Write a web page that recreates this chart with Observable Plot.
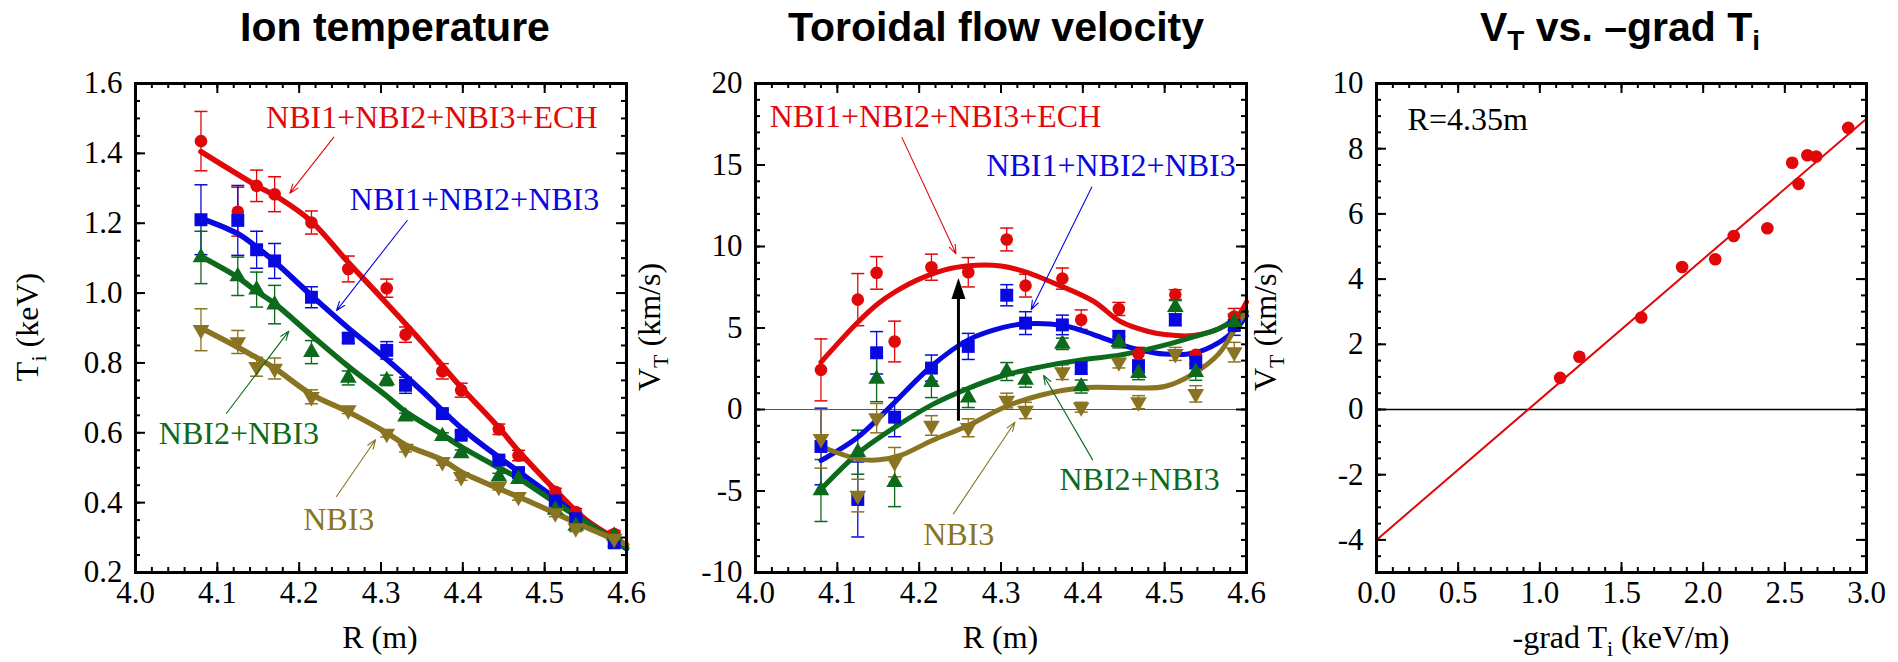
<!DOCTYPE html>
<html><head><meta charset="utf-8">
<script src="https://cdn.jsdelivr.net/npm/d3@7"></script>
<script src="https://cdn.jsdelivr.net/npm/@observablehq/plot@0.6"></script>
<style>
body{margin:0;background:#fff;}
#wrap{position:relative;width:1898px;height:662px;overflow:hidden;background:#fff;}
#wrap g[aria-label$="tick label"]{font-family:'Liberation Serif','Times New Roman',serif;font-variant:normal;}
</style></head><body><div id="wrap"></div>
<script>
// ---------- data ----------
const R = [4.08, 4.125, 4.148, 4.17, 4.215, 4.26, 4.307, 4.33, 4.375, 4.398, 4.444, 4.468, 4.513, 4.538, 4.585];

// Ion temperature (keV)
const tiRed = [1.435, 1.233, 1.307, 1.283, 1.202, 1.069, 1.014, 0.881, 0.776, 0.722, 0.610, 0.535, 0.431, 0.373, 0.310];
const tiRedErr = [0.085, 0.07, 0.045, 0.05, 0.033, 0.037, 0.026, 0.022, 0.022, 0.02, 0.015, 0.015, 0.01, 0.01, 0.01];
const tiBlue = [1.210, 1.208, 1.124, 1.092, 0.988, 0.871, 0.836, 0.736, 0.655, 0.593, 0.522, 0.486, 0.405, 0.354, 0.285];
const tiBlueErr = [0.1, 0.1, 0.053, 0.05, 0.03, 0.015, 0.025, 0.023, 0.01, 0.01, 0.01, 0.01, 0.01, 0.01, 0.01];
const tiGreen = [1.102, 1.048, 1.010, 0.967, 0.831, 0.757, 0.750, 0.646, 0.590, 0.541, 0.474, 0.467, 0.379, 0.333, 0.305];
const tiGreenErr = [0.075, 0.055, 0.05, 0.055, 0.033, 0.02, 0.015, 0.01, 0.01, 0.01, 0.01, 0.01, 0.01, 0.01, 0.01];
const tiOlive = [0.895, 0.860, 0.789, 0.784, 0.703, 0.665, 0.598, 0.555, 0.517, 0.474, 0.446, 0.417, 0.370, 0.327, 0.297];
const tiOliveErr = [0.06, 0.033, 0.027, 0.03, 0.02, 0.01, 0.01, 0.01, 0.01, 0.01, 0.01, 0.01, 0.01, 0.01, 0.01];

// Ti fit curves
const fitTiRedR = [4.08, 4.125, 4.15, 4.177, 4.215, 4.26, 4.30, 4.35, 4.398, 4.444, 4.468, 4.513, 4.55, 4.6];
const fitTiRed = [1.405, 1.34, 1.305, 1.27, 1.205, 1.088, 0.988, 0.86, 0.73, 0.615, 0.548, 0.436, 0.352, 0.279];
const fitTiBlueR = [4.08, 4.125, 4.15, 4.17, 4.215, 4.26, 4.307, 4.35, 4.4, 4.444, 4.468, 4.513, 4.55, 4.6];
const fitTiBlue = [1.214, 1.17, 1.128, 1.09, 0.993, 0.9, 0.81, 0.72, 0.61, 0.53, 0.489, 0.412, 0.345, 0.268];
const fitTiGOR = [4.08, 4.125, 4.148, 4.17, 4.215, 4.26, 4.307, 4.33, 4.375, 4.398, 4.444, 4.468, 4.513, 4.55, 4.6];
const fitTiGreen = [1.105, 1.045, 1.005, 0.97, 0.879, 0.79, 0.705, 0.66, 0.595, 0.56, 0.5, 0.47, 0.4, 0.345, 0.27];
const fitTiOlive = [0.9, 0.845, 0.815, 0.785, 0.71, 0.66, 0.6, 0.565, 0.522, 0.488, 0.44, 0.417, 0.37, 0.33, 0.28];

// Toroidal flow velocity (km/s)
const vtRed = [2.43, 6.74, 8.38, 4.17, 8.73, 8.42, 10.43, 7.6, 8.03, 5.51, 6.17, 3.41, 7.05, 3.35, 5.7];
const vtRedErr = [1.9, 1.6, 1.0, 1.25, 0.8, 0.9, 0.7, 0.7, 0.65, 0.6, 0.4, 0.4, 0.3, 0.2, 0.5];
const vtBlue = [-2.27, -5.52, 3.48, -0.47, 2.54, 3.87, 7.01, 5.3, 5.19, 2.56, 4.44, 2.64, 5.5, 2.9, 5.15];
const vtBlueErr = [2.35, 2.3, 1.3, 1.2, 0.8, 0.8, 0.65, 0.7, 0.6, 0.4, 0.4, 0.4, 0.35, 0.4, 0.6];
const vtGreen = [-4.97, -2.62, 1.88, -4.46, 1.68, 0.72, 2.33, 1.82, 4.03, 1.41, 4.13, 2.23, 6.28, 2.29, 5.36];
const vtGreenErr = [1.9, 1.35, 1.4, 1.5, 0.95, 0.6, 0.55, 0.45, 0.35, 0.4, 0.35, 0.4, 0.4, 0.5, 0.5];
const vtOlive = [-1.8, -5.28, -0.53, -3.23, -0.98, -1.12, 0.55, -0.06, 2.29, 0.14, 2.9, 0.45, 3.41, 0.96, 3.52];
const vtOliveErr = [1.8, 1.0, 0.9, 0.9, 0.6, 0.55, 0.45, 0.5, 0.45, 0.3, 0.35, 0.4, 0.4, 0.5, 0.6];

// VT fit curves
const fitVtRedR = [4.08, 4.125, 4.15, 4.17, 4.2, 4.238, 4.27, 4.3, 4.326, 4.369, 4.413, 4.446, 4.479, 4.5, 4.535, 4.566, 4.588, 4.6];
const fitVtRed = [2.9, 5.35, 6.5, 7.2, 8.0, 8.65, 8.85, 8.8, 8.5, 7.66, 6.64, 5.4, 4.8, 4.6, 4.54, 4.95, 5.66, 6.6];
const fitVtBlueR = [4.08, 4.125, 4.162, 4.216, 4.26, 4.304, 4.33, 4.376, 4.413, 4.446, 4.47, 4.5, 4.535, 4.566, 4.588, 4.6];
const fitVtBlue = [-3.13, -1.7, 0.04, 2.7, 4.27, 5.05, 5.26, 5.15, 4.6, 4.0, 3.65, 3.4, 3.45, 4.1, 5.0, 5.75];
const fitVtGreenR = [4.08, 4.125, 4.17, 4.216, 4.26, 4.304, 4.347, 4.4, 4.446, 4.5, 4.535, 4.566, 4.592, 4.6];
const fitVtGreen = [-4.9, -2.7, -1.1, 0.3, 1.3, 2.1, 2.6, 3.05, 3.35, 3.95, 4.45, 4.95, 5.75, 6.0];
const fitVtOliveR = [4.087, 4.125, 4.151, 4.177, 4.216, 4.26, 4.304, 4.347, 4.4, 4.457, 4.5, 4.535, 4.566, 4.592, 4.6];
const fitVtOlive = [-2.41, -3.03, -3.09, -2.82, -1.9, -0.98, 0.14, 0.86, 1.33, 1.33, 1.41, 2.19, 3.41, 5.46, 6.0];

// black arrow in velocity panel (R, from, to)
const bigArrow = {R: 4.248, from: -0.72, to: 8.07};

// VT vs -grad Ti at R = 4.35 m
const gradTi = [1.124, 1.242, 1.621, 1.871, 2.074, 2.187, 2.393, 2.545, 2.584, 2.638, 2.692, 2.888];
const vt435 = [0.97, 1.62, 2.82, 4.37, 4.61, 5.32, 5.56, 7.57, 6.92, 7.8, 7.76, 8.64];
const fitLineX = [0, 3];
const fitLineY = [-4.0, 8.92];

// tick labels
const rTicks = [4.0, 4.1, 4.2, 4.3, 4.4, 4.5, 4.6];
const tiTicks = [0.2, 0.4, 0.6, 0.8, 1.0, 1.2, 1.4, 1.6];
const vtTicks = [-10, -5, 0, 5, 10, 15, 20];
const gTicks = [0.0, 0.5, 1.0, 1.5, 2.0, 2.5, 3.0];
const v3Ticks = [-4, -2, 0, 2, 4, 6, 8, 10];

// annotations
const labels = ["NBI1+NBI2+NBI3+ECH", "NBI1+NBI2+NBI3", "NBI2+NBI3", "NBI3"];
const annTi = [
  {x: 4.1596, y: 1.473, ax1: 4.2424, ay1: 1.4463, ax2: 4.1886, ay2: 1.286},
  {x: 4.2619, y: 1.2384, ax1: 4.332, ay1: 1.2078, ax2: 4.2456, ay2: 0.95},
  {x: 4.0285, y: 0.5665, ax1: 4.1112, ay1: 0.656, ax2: 4.1874, ay2: 0.891},
  {x: 4.2049, y: 0.3223, ax1: 4.2456, ay1: 0.4176, ax2: 4.2933, ay2: 0.58}
];
const annVt = [
  {x: 4.0175, y: 17.34, ax1: 4.179, ay1: 16.68, ax2: 4.245, ay2: 9.55},
  {x: 4.282, y: 14.32, ax1: 4.411, ay1: 13.65, ax2: 4.337, ay2: 6.13},
  {x: 4.3715, y: -4.93, ax1: 4.412, ay1: -3.09, ax2: 4.352, ay2: 2.09},
  {x: 4.205, y: -8.34, ax1: 4.242, ay1: -6.4, ax2: 4.317, ay2: -0.78}
];
const noteR = {x: 0.19, y: 8.58, text: "R=4.35m"};

// ---------- styles ----------
const colors = ["#e00808", "#0808e0", "#0b6a1c", "#8a7421"];
const SERIF = "'Liberation Serif', 'Times New Roman', serif";
const SANS = "'Liberation Sans', Arial, sans-serif";

const capSym = {draw(ctx) { ctx.moveTo(-6.5, 0); ctx.lineTo(6.5, 0); }};
const headSym = {draw(ctx) { ctx.moveTo(0, 0); ctx.lineTo(-7, 21); ctx.lineTo(7, 21); ctx.closePath(); }};

const W = 640, H = 662, MT = 83, MB = 90, MR = 14;
const wrap = document.getElementById("wrap");

function rows(xs, vs, es) { return xs.map((x, i) => ({x, v: vs[i], e: es ? es[i] : 0})); }

function seriesErr(data, color) {
  return [
    Plot.ruleX(data, {x: "x", y1: d => d.v - d.e, y2: d => d.v + d.e, stroke: color, strokeWidth: 1.3}),
    Plot.dot(data, {x: "x", y: d => d.v + d.e, symbol: capSym, fill: "none", stroke: color, strokeWidth: 1.5}),
    Plot.dot(data, {x: "x", y: d => d.v - d.e, symbol: capSym, fill: "none", stroke: color, strokeWidth: 1.5})
  ];
}
const symbols = [
  {symbol: "circle", r: 6.3, rotate: 0},
  {symbol: "square", r: 7.3, rotate: 0},
  {symbol: "triangle", r: 6.2, rotate: 0},
  {symbol: "triangle", r: 6.2, rotate: 180}
];
function seriesDots(data, i) {
  return Plot.dot(data, {x: "x", y: "v", symbol: symbols[i].symbol, r: symbols[i].r, rotate: symbols[i].rotate, fill: colors[i], stroke: "none"});
}

function frameTicks(fw, fh, xMinor, xMajor, yMinor, yMajor) {
  const s = {stroke: "black", strokeWidth: 2};
  return [
    Plot.ruleX(xMinor, {x: d => d, insetTop: fh - 5, ...s}),
    Plot.ruleX(xMinor, {x: d => d, insetBottom: fh - 5, ...s}),
    Plot.ruleX(xMajor, {x: d => d, insetTop: fh - 10, ...s}),
    Plot.ruleX(xMajor, {x: d => d, insetBottom: fh - 10, ...s}),
    Plot.ruleY(yMinor, {y: d => d, insetRight: fw - 5, ...s}),
    Plot.ruleY(yMinor, {y: d => d, insetLeft: fw - 5, ...s}),
    Plot.ruleY(yMajor, {y: d => d, insetRight: fw - 10, ...s}),
    Plot.ruleY(yMajor, {y: d => d, insetLeft: fw - 10, ...s})
  ];
}

function makePanel(o) {
  const fw = W - o.marginLeft - MR, fh = H - MT - MB;
  const svg = Plot.plot({
    width: W, height: H, marginLeft: o.marginLeft, marginRight: MR, marginTop: MT, marginBottom: MB,
    x: {domain: o.xDomain}, y: {domain: o.yDomain},
    style: {fontFamily: SERIF, fontSize: "31px", background: "transparent", overflow: "visible", color: "black"},
    marks: [
      ...o.marks,
      ...frameTicks(fw, fh, o.xMinor, o.xMajor, o.yMinor, o.yMajor),
      Plot.axisX({ticks: o.xTicks, tickFormat: o.xFmt, tickSize: 0, tickPadding: 8, label: null, fontSize: 31, fontFamily: SERIF}),
      Plot.axisY({ticks: o.yTicks, tickFormat: o.yFmt, tickSize: 0, tickPadding: 13, label: null, fontSize: 31, fontFamily: SERIF}),
      Plot.frame({stroke: "black", strokeWidth: 3})
    ]
  });
  svg.style.position = "absolute";
  svg.style.left = o.left + "px";
  svg.style.top = "0px";
  svg.style.maxWidth = "none";
  wrap.appendChild(svg);
  return d3.select(svg);
}

// rich text helper: parts = [[text, isSub], ...]
function richText(sel, parts, size, subSize, shift) {
  parts.forEach(([t, sub], i) => {
    const ts = sel.append("tspan").text(t);
    if (sub) ts.attr("font-size", subSize).attr("dy", shift);
    else if (i > 0 && parts[i - 1][1]) ts.attr("dy", -shift);
  });
}
function addTitle(svg, cx, parts) {
  const t = svg.append("text").attr("x", cx).attr("y", 41).attr("text-anchor", "middle")
    .attr("font-family", SANS).attr("font-weight", "bold").attr("font-size", 41).attr("fill", "black");
  richText(t, parts, 41, 28, 9);
}
function addYLabel(svg, x, parts) {
  const t = svg.append("text").attr("transform", `translate(${x},327) rotate(-90)`).attr("text-anchor", "middle")
    .attr("font-family", SERIF).attr("font-size", 32).attr("fill", "black");
  richText(t, parts, 32, 22, 8);
}
function addXLabel(svg, cx, parts) {
  const t = svg.append("text").attr("x", cx).attr("y", 648).attr("text-anchor", "middle")
    .attr("font-family", SERIF).attr("font-size", 32).attr("fill", "black");
  richText(t, parts, 32, 22, 8);
}

function annMarks(ann) {
  return ann.flatMap((a, i) => [
    Plot.arrow([a], {x1: "ax1", y1: "ay1", x2: "ax2", y2: "ay2", stroke: colors[i], strokeWidth: 1.1, headLength: 13, headAngle: 40}),
    Plot.text([a], {x: "x", y: "y", text: () => labels[i], fill: colors[i], textAnchor: "start", lineAnchor: "bottom", fontSize: 32, fontFamily: SERIF})
  ]);
}

const rMinor = d3.range(4.0, 4.6001, 0.02);

// ---------- Panel 1: Ion temperature ----------
const tiSeries = [[tiRed, tiRedErr], [tiBlue, tiBlueErr], [tiGreen, tiGreenErr], [tiOlive, tiOliveErr]].map(([v, e]) => rows(R, v, e));
const tiFits = [rows(fitTiRedR, fitTiRed), rows(fitTiBlueR, fitTiBlue), rows(fitTiGOR, fitTiGreen), rows(fitTiGOR, fitTiOlive)];
const p1 = makePanel({
  left: 0, marginLeft: 135, xDomain: [4.0, 4.6], yDomain: [0.2, 1.6],
  xTicks: rTicks, xMajor: rTicks, xMinor: rMinor, xFmt: d => d.toFixed(1),
  yTicks: tiTicks, yMajor: tiTicks, yMinor: d3.range(0.2, 1.6001, 0.05), yFmt: d => d.toFixed(1),
  marks: [
    ...tiSeries.flatMap((s, i) => seriesErr(s, colors[i])),
    ...tiFits.map((f, i) => Plot.line(f, {x: "x", y: "v", stroke: colors[i], strokeWidth: 5.5, curve: "catmull-rom"})),
    ...tiSeries.map((s, i) => seriesDots(s, i)),
    ...annMarks(annTi)
  ]
});
addTitle(p1, 395, [["Ion temperature", false]]);
addYLabel(p1, 38, [["T", false], ["i", true], [" (keV)", false]]);
addXLabel(p1, 380, [["R (m)", false]]);

// ---------- Panel 2: Toroidal flow velocity ----------
const vtSeries = [[vtRed, vtRedErr], [vtBlue, vtBlueErr], [vtGreen, vtGreenErr], [vtOlive, vtOliveErr]].map(([v, e]) => rows(R, v, e));
const vtFits = [rows(fitVtRedR, fitVtRed), rows(fitVtBlueR, fitVtBlue), rows(fitVtGreenR, fitVtGreen), rows(fitVtOliveR, fitVtOlive)];
const p2 = makePanel({
  left: 620, marginLeft: 135, xDomain: [4.0, 4.6], yDomain: [-10, 20],
  xTicks: rTicks, xMajor: rTicks, xMinor: rMinor, xFmt: d => d.toFixed(1),
  yTicks: vtTicks, yMajor: vtTicks, yMinor: d3.range(-10, 20.001, 1), yFmt: d => String(d),
  marks: [
    Plot.ruleY([0], {stroke: "#555", strokeWidth: 1.2}),
    ...vtSeries.flatMap((s, i) => seriesErr(s, colors[i])),
    ...vtFits.map((f, i) => Plot.line(f, {x: "x", y: "v", stroke: colors[i], strokeWidth: 5, curve: "catmull-rom"})),
    ...vtSeries.map((s, i) => seriesDots(s, i)),
    Plot.ruleX([bigArrow], {x: "R", y1: "from", y2: d => d.to - 1.1, stroke: "black", strokeWidth: 3}),
    Plot.dot([bigArrow], {x: "R", y: "to", symbol: headSym, fill: "black", stroke: "none"}),
    ...annMarks(annVt)
  ]
});
addTitle(p2, 376, [["Toroidal flow velocity", false]]);
addYLabel(p2, 40, [["V", false], ["T", true], [" (km/s)", false]]);
addXLabel(p2, 380.5, [["R (m)", false]]);

// ---------- Panel 3: VT vs -grad Ti ----------
const gData = rows(gradTi, vt435);
const fitData = rows(fitLineX, fitLineY);
const p3 = makePanel({
  left: 1240, marginLeft: 136, xDomain: [0, 3], yDomain: [-5, 10],
  xTicks: gTicks, xMajor: gTicks, xMinor: d3.range(0, 3.0001, 0.1), xFmt: d => d.toFixed(1),
  yTicks: v3Ticks, yMajor: v3Ticks, yMinor: d3.range(-5, 10.001, 0.5), yFmt: d => String(d),
  marks: [
    Plot.ruleY([0], {stroke: "black", strokeWidth: 1.6}),
    Plot.line(fitData, {x: "x", y: "v", stroke: colors[0], strokeWidth: 2}),
    Plot.dot(gData, {x: "x", y: "v", r: 6.3, fill: colors[0], stroke: "none"}),
    Plot.text([noteR], {x: "x", y: "y", text: "text", textAnchor: "start", lineAnchor: "bottom", fontSize: 32, fontFamily: SERIF, fill: "black"})
  ]
});
addTitle(p3, 380, [["V", false], ["T", true], [" vs. \u2013grad T", false], ["i", true]]);
addYLabel(p3, 36, [["V", false], ["T", true], [" (km/s)", false]]);
addXLabel(p3, 381, [["-grad T", false], ["i", true], [" (keV/m)", false]]);
</script>
</body></html>
